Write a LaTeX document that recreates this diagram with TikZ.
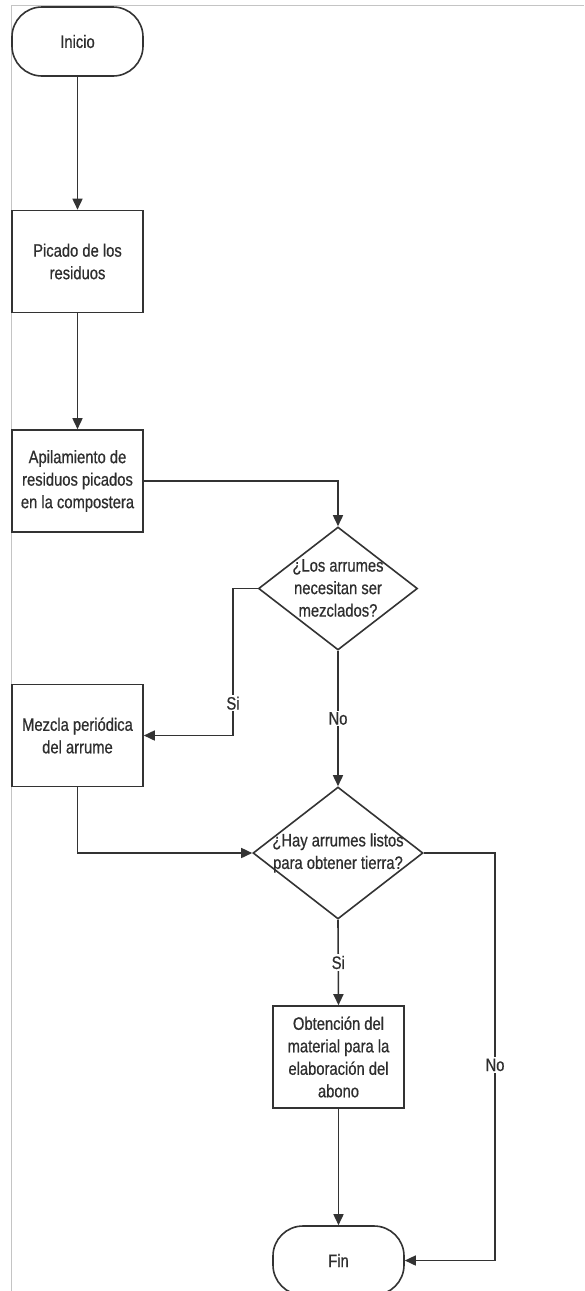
\documentclass[tikz,border=0pt]{standalone}
\usepackage{fontspec}
\setmainfont{Liberation Sans}[FakeStretch=0.82,FakeBold=0.6]
\usetikzlibrary{shapes.geometric,arrows.meta}
\definecolor{ln}{HTML}{333333}
\definecolor{tx}{HTML}{2E2E2E}
\definecolor{fr}{HTML}{C4C4C4}
\begin{document}
\begin{tikzpicture}[x=1pt,y=-1pt,
  every node/.style={font=\fontsize{18}{22.5}\selectfont, text=tx},
  term/.style={draw=ln, line width=1.6pt, rectangle, rounded corners=30pt, minimum width=131pt, minimum height=69pt, inner sep=0pt},
  proc/.style={draw=ln, line width=1.6pt, rectangle, minimum width=131pt, minimum height=102pt, inner sep=0pt, align=center},
  dec/.style={draw=ln, line width=1.6pt, diamond, inner sep=0pt},
  txt/.style={align=center, inner sep=0pt},
  conn/.style={draw=ln, line width=1.6pt, -{Triangle[length=11pt,width=10pt]}},
  lbl/.style={fill=white, inner sep=1.5pt}]
\clip (0,0) rectangle (584,1291);
\fill[white] (0,0) rectangle (584,1291);
\draw[fr, line width=0.8pt] (11,1291) -- (11,5) -- (584,5);

\node[term] (ini) at (77.5,41.5) {Inicio};
\node[proc] (p1) at (77.5,261.5) {Picado de los\\residuos};
\node[proc] (p2) at (77.5,481) {Apilamiento de\\residuos picados\\en la compostera};
\node[dec, minimum width=159pt, minimum height=123pt] (d1) at (338,588.5) {};
\node[txt] at (338,588) {¿Los arrumes\\necesitan ser\\mezclados?};
\node[proc] (m) at (77.5,735.5) {Mezcla periódica\\del arrume};
\node[dec, minimum width=170pt, minimum height=132pt] (d2) at (338,853) {};
\node[txt] at (338,853) {¿Hay arrumes listos\\para obtener tierra?};
\node[proc] (o) at (338.5,1057) {Obtención del\\material para la\\elaboración del\\abono};
\node[term] (fin) at (338.5,1260.5) {Fin};

\coordinate (c1) at (233,588.5);
\coordinate (c2) at (495,853);

\draw[conn] (ini) -- (p1);
\draw[conn] (p1) -- (p2);
\draw[conn] (p2.east) -| (d1.north);
\draw[conn] (d1.west) -- (c1) |- node[lbl, pos=0.39] {Si} (m.east);
\draw[conn] (d1.south) -- node[lbl, pos=0.5] {No} (d2.north);
\draw[conn] (m.south) |- (d2.west);
\draw[conn] (d2.east) -- (c2) |- node[lbl, pos=0.26] {No} (fin.east);
\draw[conn] (d2.south) -- node[lbl, pos=0.5] {Si} (o.north);
\draw[conn] (o) -- (fin);
\end{tikzpicture}
\end{document}
